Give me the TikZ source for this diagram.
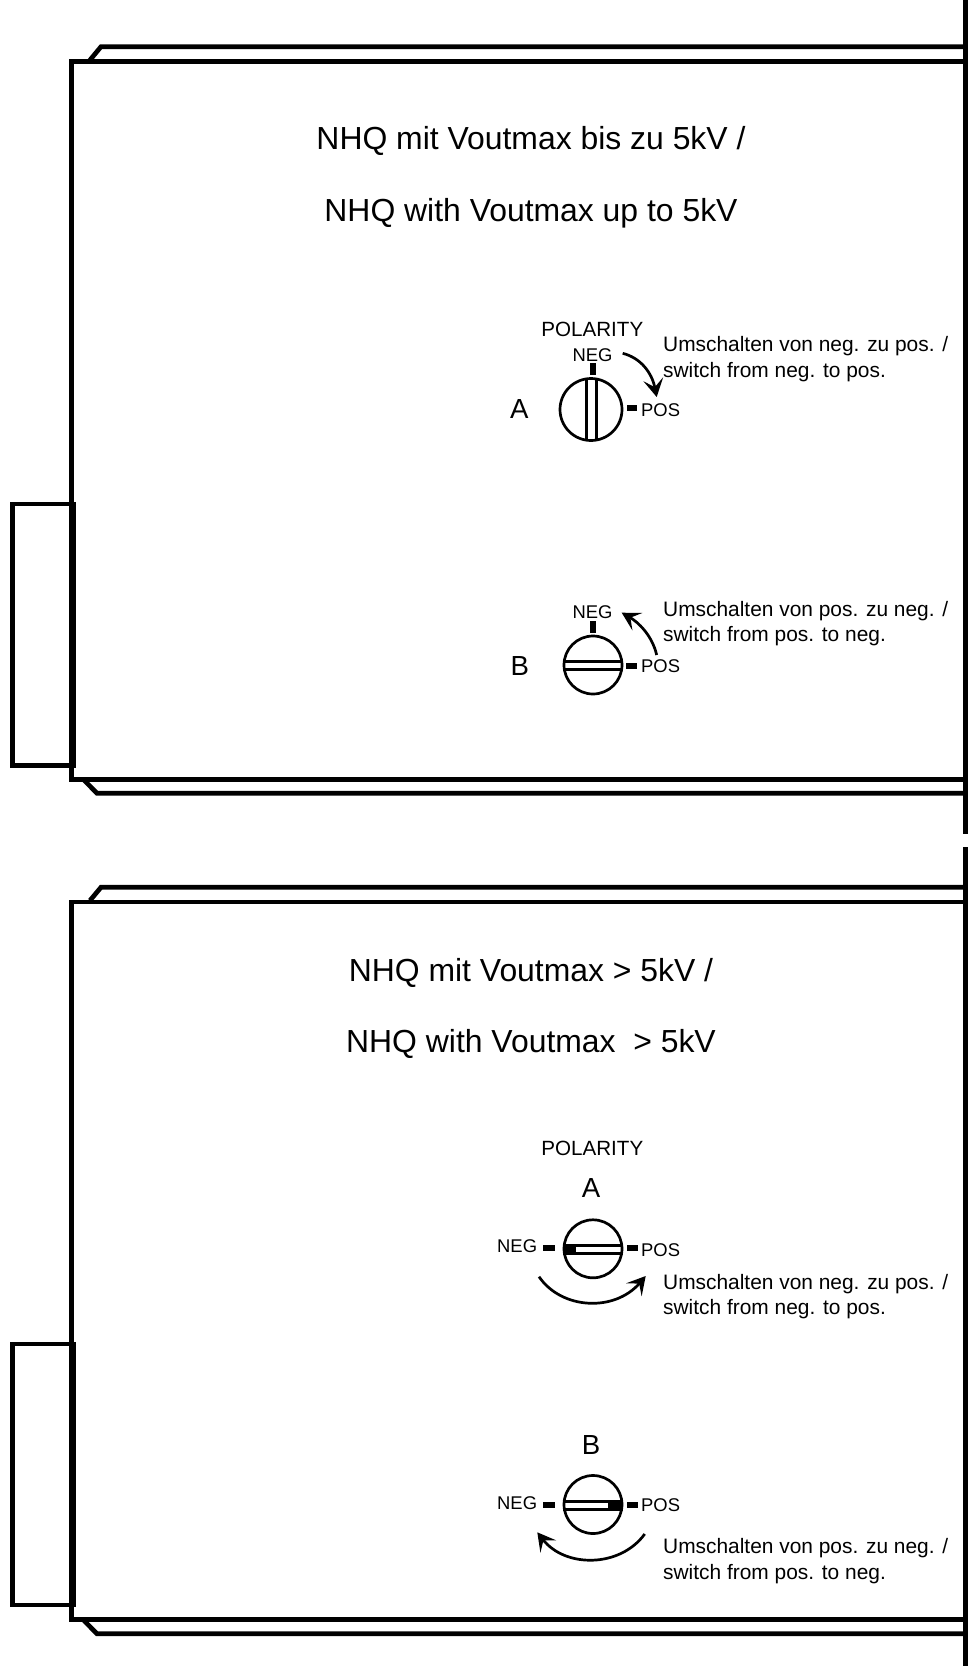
\documentclass[tikz,border=0pt]{standalone}
\usepackage{fontspec}
\setmainfont{Liberation Sans}
\usetikzlibrary{arrows.meta}
\tikzset{
  x=1pt,y=-1pt,
  frameline/.style={line width=4.7pt,line join=miter},
  knobline/.style={line width=2.7pt},
  knob/.style={circle,draw,line width=2.7pt,minimum size=58pt,inner sep=0pt},
  tickmark/.style={fill=black,draw=none},
  swing/.style={line width=2.7pt,-{Stealth[length=18pt,width=20pt,inset=8pt]}},
  titletext/.style={font=\fontsize{31.9pt}{34pt}\selectfont,anchor=base,inner sep=0pt},
  lettertext/.style={font=\fontsize{27.6pt}{30pt}\selectfont,anchor=base,inner sep=0pt},
  smalltext/.style={font=\fontsize{18.4pt}{20pt}\selectfont,anchor=base,inner sep=0pt},
  poltext/.style={font=\fontsize{20.6pt}{22pt}\selectfont,anchor=base,inner sep=0pt},
  notetext/.style={font=\fontsize{20.9pt}{23pt}\selectfont,anchor=base west,inner sep=0pt},
}
\begin{document}
\begin{tikzpicture}
\useasboundingbox (0,0) rectangle (968,1666);
% housing, upper
\draw[frameline] (968,61.5) -- (71.5,61.5) -- (71.5,779.3) -- (968,779.3);
\draw[frameline] (90,60) -- (101,46.7) -- (968,46.7);
\draw[frameline] (84,780) -- (97,793.3) -- (968,793.3);
\draw[frameline] (73.7,765.3) -- (12.4,765.3) -- (12.4,504) -- (73.7,504) -- cycle;
\draw[frameline] (965.7,0) -- (965.7,834);
% housing, lower
\draw[frameline] (968,902) -- (71.5,902) -- (71.5,1619.8) -- (968,1619.8);
\draw[frameline] (90,900.5) -- (101,887.3) -- (968,887.3);
\draw[frameline] (84,1620.5) -- (97,1633.8) -- (968,1633.8);
\draw[frameline] (73.7,1605) -- (12.4,1605) -- (12.4,1344) -- (73.7,1344) -- cycle;
\draw[frameline] (965.7,847.3) -- (965.7,1666);
% titles
\node[titletext] (t1) at (531,149) {NHQ mit Voutmax bis zu 5kV /};
\node[titletext] (t2) at (531,221) {NHQ with Voutmax up to 5kV};
\node[titletext] (t3) at (531,981) {NHQ mit Voutmax > 5kV /};
\node[titletext] (t4) at (531,1052.5) {NHQ with Voutmax~ > 5kV};
% knob 1
\node[knob,minimum size=62pt] (k1) at (591,409.5) {};
\draw[knobline] (586.8,378) -- (586.8,441);
\draw[knobline] (596.8,378) -- (596.8,441);
\fill[tickmark] (590,363) rectangle (596,375);
\fill[tickmark] (626.7,405) rectangle (636.7,410.7);
\node[lettertext] (a1) at (519.3,418) {A};
\node[smalltext] (n1) at (592.5,361) {NEG};
\node[poltext] (pol1) at (592.3,336) {POLARITY};
\node[smalltext,anchor=base west] (p1) at (641,416) {POS};
\node[notetext] (u1) at (663,351.7) {Umschalten von neg. zu pos. /};
\node[notetext] (s1) at (663,377.3) {switch from neg. to pos.};
\coordinate (c1a) at (622.7,353.3);
\coordinate (c1b) at (656.7,397);
\draw[swing] (c1a) .. controls (641,358) and (652,373) .. (c1b);
% knob 2
\node[knob] (k2) at (593,665) {};
\draw[knobline] (563,661.3) -- (623,661.3);
\draw[knobline] (563,669.3) -- (623,669.3);
\fill[tickmark] (590.3,620.7) rectangle (596,633);
\fill[tickmark] (626,662.7) rectangle (636.7,669.3);
\node[lettertext] (b2) at (519.7,675) {B};
\node[smalltext] (n2) at (592.5,618) {NEG};
\node[smalltext,anchor=base west] (p2) at (641,672.5) {POS};
\node[notetext] (u2) at (663,616.5) {Umschalten von pos. zu neg. /};
\node[notetext] (s2) at (663,641.5) {switch from pos. to neg.};
\coordinate (c2a) at (656.7,655);
\coordinate (c2b) at (621.7,612.7);
\draw[swing] (c2a) .. controls (652,635) and (638,622) .. (c2b);
% knob 3
\node[knob] (k3) at (593,1248.8) {};
\draw[knobline] (563,1245.7) -- (623,1245.7);
\draw[knobline] (563,1253.7) -- (623,1253.7);
\fill (563,1244.3) rectangle (575.7,1255);
\fill[tickmark] (543.3,1245) rectangle (555,1251);
\fill[tickmark] (627.3,1245) rectangle (637.7,1251);
\node[lettertext] (a3) at (591,1197) {A};
\node[poltext] (pol3) at (592.3,1155.5) {POLARITY};
\node[smalltext,anchor=base west] (n3) at (497,1252) {NEG};
\node[smalltext,anchor=base west] (p3) at (641,1256) {POS};
\node[notetext] (u3) at (663,1289) {Umschalten von neg. zu pos. /};
\node[notetext] (s3) at (663,1314.5) {switch from neg. to pos.};
\coordinate (c3a) at (539,1276.7);
\coordinate (c3b) at (645.7,1276);
\draw[swing] (c3a) .. controls (562,1310) and (615,1312) .. (c3b);
% knob 4
\node[knob] (k4) at (593,1504.5) {};
\draw[knobline] (563,1501.3) -- (623,1501.3);
\draw[knobline] (563,1509.3) -- (623,1509.3);
\fill (608.3,1500) rectangle (622.7,1510.7);
\fill[tickmark] (543.3,1501.7) rectangle (555,1508.3);
\fill[tickmark] (627.3,1501.7) rectangle (637.7,1508.3);
\node[lettertext] (b4) at (591,1454) {B};
\node[smalltext,anchor=base west] (n4) at (497,1509) {NEG};
\node[smalltext,anchor=base west] (p4) at (641,1511.5) {POS};
\node[notetext] (u4) at (663,1553.5) {Umschalten von pos. zu neg. /};
\node[notetext] (s4) at (663,1579) {switch from pos. to neg.};
\coordinate (c4a) at (644.7,1534);
\coordinate (c4b) at (537.3,1532.3);
\draw[swing] (c4a) .. controls (620,1568) and (565,1568) .. (c4b);
\end{tikzpicture}
\end{document}
